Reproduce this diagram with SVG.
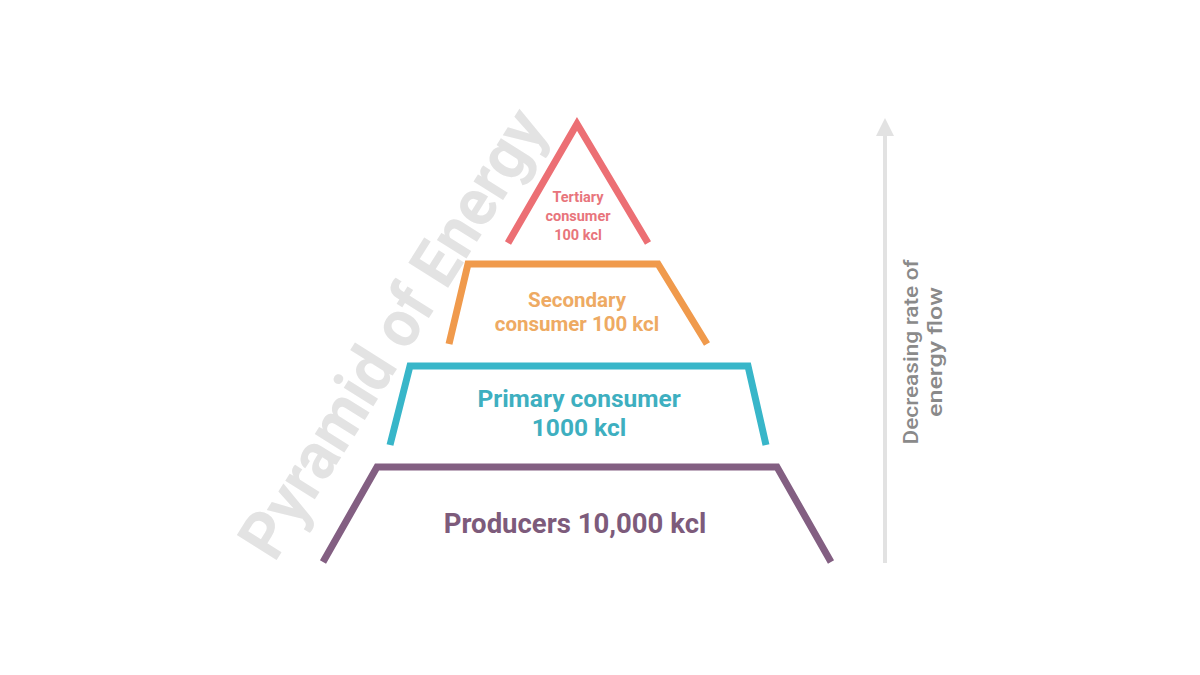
<svg xmlns="http://www.w3.org/2000/svg" width="1200" height="675" viewBox="0 0 1200 675">
<style>
.lvl{fill:none;stroke-width:7;stroke-linejoin:miter;stroke-linecap:butt}
.lbl{font-family:Roboto,"Liberation Sans",sans-serif;font-weight:bold;text-anchor:middle}
.side{font-family:Roboto,"Liberation Sans",sans-serif;font-weight:500;fill:#8a8a8a;font-size:20px}
</style>
<rect width="1200" height="675" fill="#ffffff"/>
<text id="watermark" transform="translate(397,336) rotate(-57.8)" font-family="Roboto,'Liberation Sans',sans-serif" font-weight="bold" font-size="66" fill="#e3e3e3" text-anchor="middle" dominant-baseline="middle" textLength="515" lengthAdjust="spacingAndGlyphs">Pyramid of Energy</text>
<g id="tertiary">
<path class="lvl" stroke="#ec6f74" d="M508,243 L577,124 L648,243"/>
<text class="lbl" fill="#e8757c" font-size="14.5"><tspan x="578" y="202">Tertiary</tspan><tspan x="578" y="221">consumer</tspan><tspan x="578" y="240">100 kcl</tspan></text>
</g>
<g id="secondary">
<path class="lvl" stroke="#f09a4c" d="M449,344 L468,264 L658,264 L707,344"/>
<text class="lbl" fill="#eeaa63" font-size="20.5"><tspan x="577" y="307">Secondary</tspan><tspan x="577" y="331">consumer 100 kcl</tspan></text>
</g>
<g id="primary">
<path class="lvl" stroke="#38b6c9" d="M390,445 L410,366 L748,366 L766,445"/>
<text class="lbl" fill="#3eafc0" font-size="24.5"><tspan x="579" y="407">Primary consumer</tspan><tspan x="579" y="436">1000 kcl</tspan></text>
</g>
<g id="producers">
<path class="lvl" stroke="#835f82" d="M323,562 L377,467 L777,467 L831,562"/>
<text class="lbl" fill="#7d5b7b" font-size="27.5" x="575" y="533">Producers 10,000 kcl</text>
</g>
<g id="connectors">
<line x1="885" y1="563" x2="885" y2="133" stroke="#e2e2e2" stroke-width="4"/>
<path d="M876,136 L885,118 L894,136 Z" fill="#e2e2e2"/>
</g>
<g id="axis-label">
<text class="side" text-anchor="middle" transform="translate(900,352) rotate(-90)"><tspan x="0" y="18" textLength="185" lengthAdjust="spacingAndGlyphs">Decreasing rate of</tspan><tspan x="0" y="42" textLength="130" lengthAdjust="spacingAndGlyphs">energy flow</tspan></text>
</g>
</svg>
